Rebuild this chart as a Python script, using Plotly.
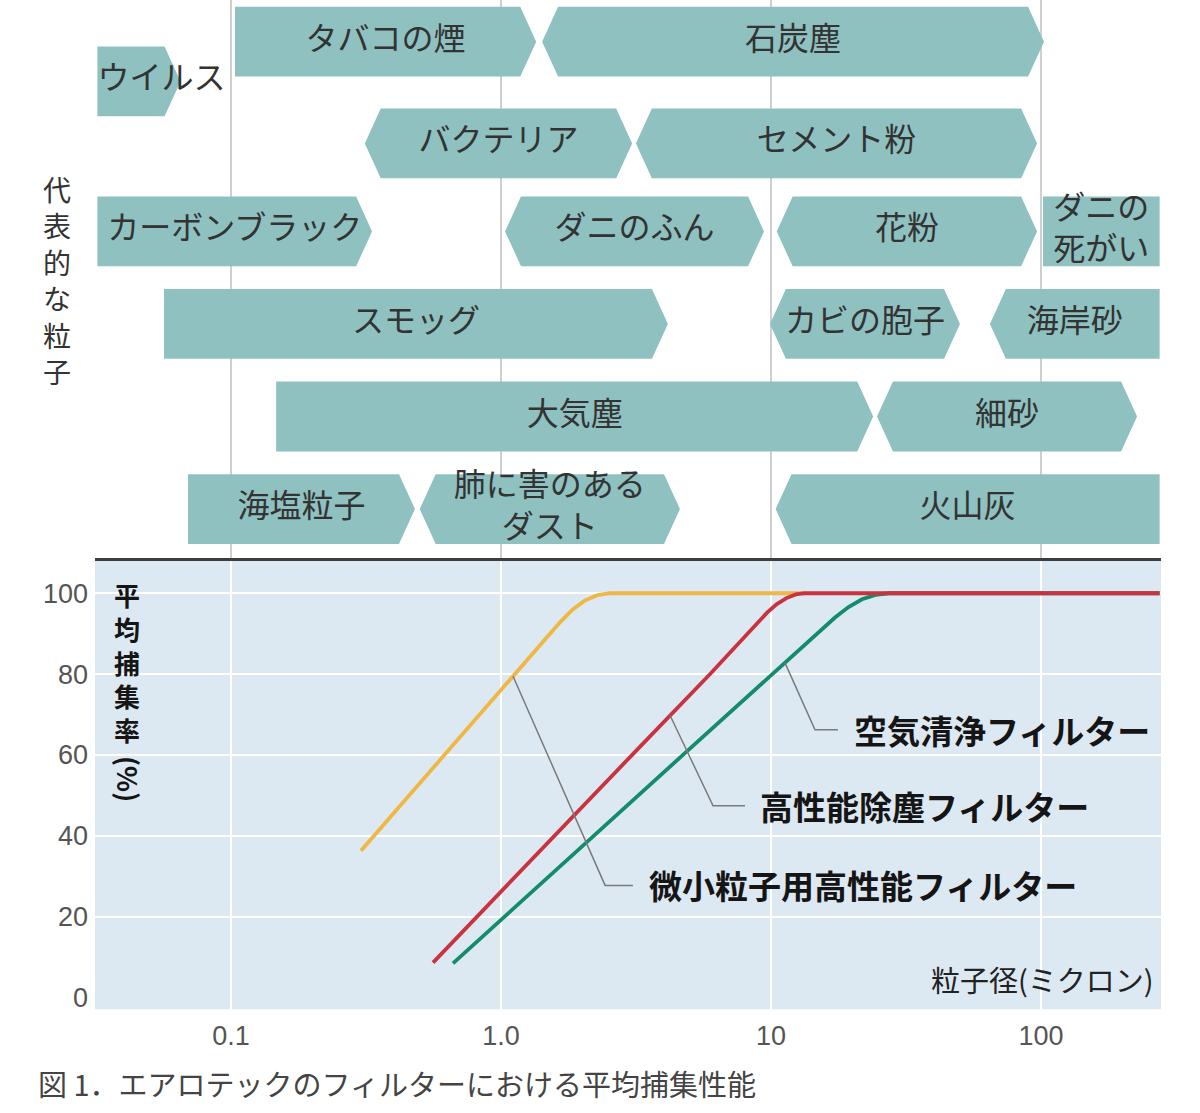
import numpy as np
import plotly.graph_objects as go

# ---------------- data ----------------
# Particle size ranges (micron) for the "representative particles" panel
particle_names = ["タバコの煙", "石炭塵", "ウイルス", "バクテリア", "セメント粉",
                  "カーボンブラック", "ダニのふん", "花粉", "ダニの<br>死がい",
                  "スモッグ", "カビの胞子", "海岸砂", "大気塵", "細砂",
                  "海塩粒子", "肺に害のある<br>ダスト", "火山灰"]
size_min = [0.1035, 1.42, 0.032, 0.313, 3.16,
            0.032, 1.035, 10.5, 101.7,
            0.0565, 9.91, 64.7, 0.147, 24.7,
            0.0693, 0.50, 10.4]
size_max = [1.35, 102.6, 0.065, 3.06, 96.7,
            0.333, 9.42, 96.7, 275,
            4.15, 50.1, 275, 23.9, 226.8,
            0.48, 4.6, 275]
lane = [-0.05, -0.05, 0.38, 1.05, 1.05,
        2, 2, 2, 2,
        3, 3, 3, 4, 4,
        5, 5, 5]
left_open = [False, True, False, True, True,
             False, True, True, False,
             False, True, True, False, True,
             False, True, True]
right_open = [True, True, True, True, True,
              True, True, True, False,
              True, True, False, True, True,
              True, True, False]

# Average collection efficiency curves (particle size in micron, %)
ultra_x = [0.303, 0.615, 1.127, 1.654, 1.84, 2.047, 2.28, 2.53, 6.0, 13.4]
ultra_y = [36.3, 60, 80, 92.8, 95.95, 98.2, 99.55, 100, 100, 100]
dust_x = [0.56, 0.815, 1.585, 3.06, 5.95, 9.67, 10.51, 11.41, 12.35, 13.36, 275]
dust_y = [8.6, 20, 40, 60, 80, 95.2, 97.3, 98.8, 99.7, 100, 100]
air_x = [0.664, 1.035, 2.21, 4.72, 10.15, 17.26, 19.37, 21.73, 24.38, 27.35, 275]
air_y = [8.4, 20, 40, 60, 80, 94.0, 96.6, 98.5, 99.6, 100, 100]

filter_labels = ["微小粒子用高性能フィルター", "高性能除塵フィルター", "空気清浄フィルター"]

x_tickvals = [0.1, 1, 10, 100]
x_ticktext = ["0.1", "1.0", "10", "100"]
y_tickvals = [0, 20, 40, 60, 80, 100]

# ---------------- styles / layout constants ----------------
W, H = 1200, 1113
TEAL = "#8ec1c0"
BLUE = "#dde9f2"
JP = "Noto Sans CJK JP"
NUM = "Liberation Sans"
YELLOW, RED, GREEN = "#efb744", "#c9323f", "#148c6c"


def py(p):  # pixel row -> paper y
    return 1 - p / H


def pxx(p):  # pixel column -> paper x
    return p / W


X_DOM = [pxx(95), pxx(1161)]
X_RANGE = [-1.5037, 2.4444]
Y_RANGE = [-2.96, 108.6]
LANE_RANGE = [5.534, -0.5]
HALF_H = 0.377          # half height of particle boxes (lane units)
TIP = 10 ** 0.059       # arrow tip depth (factor along log axis)

fig = go.Figure()

# ---- particle range boxes ----
bx, by = [], []
for x0, x1, c, lo, ro in zip(size_min, size_max, lane, left_open, right_open):
    pts = []
    if lo:
        pts += [(x0 * TIP, c + HALF_H), (x0, c), (x0 * TIP, c - HALF_H)]
    else:
        pts += [(x0, c + HALF_H), (x0, c - HALF_H)]
    if ro:
        pts += [(x1 / TIP, c - HALF_H), (x1, c), (x1 / TIP, c + HALF_H)]
    else:
        pts += [(x1, c - HALF_H), (x1, c + HALF_H)]
    pts.append(pts[0])
    bx += [p[0] for p in pts] + [None]
    by += [p[1] for p in pts] + [None]

fig.add_trace(go.Scatter(x=bx, y=by, mode="lines", fill="toself", fillcolor=TEAL,
                         line=dict(width=0, color=TEAL), xaxis="x2", yaxis="y2",
                         hoverinfo="skip", showlegend=False))

tx, tpos = [], []
for name, x0, x1 in zip(particle_names, size_min, size_max):
    if name == "ウイルス":
        tx.append(x0)
        tpos.append("middle right")
    else:
        tx.append(np.sqrt(x0 * x1))
        tpos.append("middle center")
fig.add_trace(go.Scatter(x=tx, y=lane, mode="text", text=particle_names,
                         textposition=tpos,
                         textfont=dict(family=JP, size=32, color="#333333"),
                         xaxis="x2", yaxis="y2", hoverinfo="skip", showlegend=False))

# ---- efficiency curves ----
series = [(ultra_x, ultra_y, YELLOW), (air_x, air_y, GREEN), (dust_x, dust_y, RED)]
for sx, sy, col in series:
    fig.add_trace(go.Scatter(x=sx, y=sy, mode="lines", line=dict(color=col, width=3.8),
                             xaxis="x", yaxis="y", hoverinfo="skip", showlegend=False))

# overlay axis used only to draw the horizontal white gridlines (none at 0)
fig.add_trace(go.Scatter(x=[None], y=[None], xaxis="x", yaxis="y3", showlegend=False,
                         hoverinfo="skip"))

# ---- leader lines and filter labels ----
curve_for_label = [(ultra_x, ultra_y), (dust_x, dust_y), (air_x, air_y)]
anchor_x = [1.108, 4.23, 11.27]
bend_x = [2.43, 6.1, 14.55]
end_x = [3.08, 8.01, 17.7]
label_x = [3.47, 8.95, 19.9]
label_y = [27.7, 47.4, 66.2]

annotations = []
for (cx, cy), ax_, bx_, ex_, lx, ly, txt in zip(curve_for_label, anchor_x, bend_x,
                                                end_x, label_x, label_y, filter_labels):
    ay = float(np.interp(np.log10(ax_), np.log10(cx), cy))
    fig.add_trace(go.Scatter(x=[ax_, bx_, ex_], y=[ay, ly, ly], mode="lines",
                             line=dict(color="#7a7a7a", width=1.5),
                             xaxis="x", yaxis="y", hoverinfo="skip", showlegend=False))
    annotations.append(dict(x=np.log10(lx), y=ly, xref="x", yref="y", text=txt,
                            xanchor="left", yanchor="middle", showarrow=False,
                            font=dict(family=JP, size=33, color="#151515", weight="bold")))

# y axis title (vertical)
annotations.append(dict(x=pxx(127), y=py(664), xref="paper", yref="paper",
                        text="平<br>均<br>捕<br>集<br>率", showarrow=False,
                        xanchor="center", yanchor="middle",
                        font=dict(family=JP, size=26, color="#151515", weight="bold")))
annotations.append(dict(x=pxx(128), y=py(781), xref="paper", yref="paper", text="(%)",
                        textangle=90, showarrow=False, xanchor="center", yanchor="middle",
                        font=dict(family=JP, size=27, color="#151515", weight="bold")))
# x axis title
annotations.append(dict(x=pxx(1156), y=py(982), xref="paper", yref="paper",
                        text="粒子径(ミクロン)", showarrow=False, xanchor="right",
                        yanchor="middle",
                        font=dict(family=JP, size=29, color="#222222")))
# left label of top panel
annotations.append(dict(x=pxx(57), y=py(281), xref="paper", yref="paper",
                        text="代<br>表<br>的<br>な<br>粒<br>子", showarrow=False,
                        xanchor="center", yanchor="middle",
                        font=dict(family=JP, size=28, color="#333333")))
# caption
annotations.append(dict(x=pxx(36), y=py(1086), xref="paper", yref="paper",
                        text="図 1．エアロテックのフィルターにおける平均捕集性能",
                        showarrow=False, xanchor="left", yanchor="middle",
                        font=dict(family=JP, size=29, color="#444444")))

fig.update_layout(
    width=W, height=H,
    margin=dict(l=0, r=0, t=0, b=0),
    paper_bgcolor="white",
    plot_bgcolor="rgba(0,0,0,0)",
    showlegend=False,
    xaxis=dict(type="log", domain=X_DOM, range=X_RANGE, anchor="y",
               tickvals=x_tickvals, ticktext=x_ticktext, ticks="",
               showgrid=True, gridcolor="white", gridwidth=2, showline=False,
               zeroline=False, ticklabelstandoff=8,
               tickfont=dict(family=NUM, size=27, color="#555555")),
    yaxis=dict(domain=[py(1012), py(560)], range=Y_RANGE, anchor="x",
               tickvals=y_tickvals, ticks="", showgrid=False, zeroline=False,
               showline=False, ticklabelstandoff=6,
               tickfont=dict(family=NUM, size=27, color="#555555")),
    yaxis3=dict(overlaying="y", range=Y_RANGE, anchor="x",
                tickvals=[20, 40, 60, 80, 100], showticklabels=False, ticks="",
                showgrid=True, gridcolor="white", gridwidth=2, zeroline=False),
    xaxis2=dict(type="log", domain=X_DOM, range=X_RANGE, anchor="y2", matches="x",
                tickvals=x_tickvals, showticklabels=False, ticks="",
                showgrid=True, gridcolor="#cfcfcf", gridwidth=2,
                showline=True, linecolor="#3d3d3d", linewidth=3, zeroline=False),
    yaxis2=dict(domain=[py(560), 1], range=LANE_RANGE, anchor="x2",
                showgrid=False, zeroline=False, showticklabels=False, ticks="",
                showline=False),
    shapes=[dict(type="rect", xref="x domain", yref="y domain", x0=0, x1=1, y0=0, y1=1,
                 fillcolor=BLUE, line=dict(width=0), layer="below")],
    annotations=annotations,
)

fig.write_html("out.html")
